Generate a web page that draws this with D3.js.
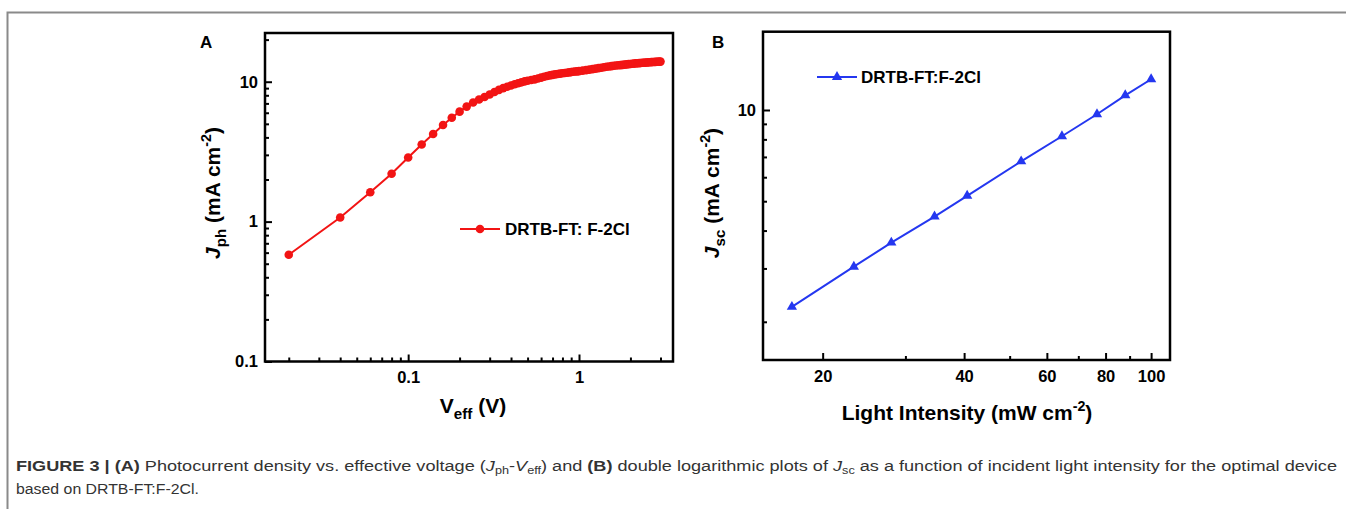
<!DOCTYPE html>
<html>
<head>
<meta charset="utf-8">
<script src="https://cdn.jsdelivr.net/npm/d3@7"></script>
<style>
	body { margin: 0; background: #fff; }
	svg { display: block; font-family: "Liberation Sans", Arial, sans-serif; }
	.tick text { font-weight: bold; font-size: 16.5px; fill: #000; }
	.tick line { stroke: #000; stroke-width: 2; }
</style>
</head>
<body>
<svg id="fig" width="1346" height="509"></svg>
<script>
	"use strict";

	/***** Data *****/

	// Panel A : photocurrent density vs effective voltage
	var veff = [0.02, 0.04, 0.06, 0.08, 0.10, 0.12, 0.14, 0.16, 0.18, 0.20,
		0.22, 0.24, 0.26, 0.28, 0.30, 0.32, 0.34, 0.36, 0.38, 0.40,
		0.42, 0.44, 0.46, 0.48, 0.50, 0.525, 0.55, 0.575, 0.60, 0.625,
		0.65, 0.675, 0.70, 0.725, 0.75, 0.775, 0.80, 0.825, 0.85, 0.875,
		0.90, 0.925, 0.95, 0.975, 1.0, 1.05, 1.1, 1.15, 1.2, 1.25,
		1.3, 1.35, 1.4, 1.45, 1.5, 1.55, 1.6, 1.65, 1.7, 1.75,
		1.8, 1.85, 1.9, 1.95, 2.0, 2.05, 2.1, 2.15, 2.2, 2.25,
		2.3, 2.35, 2.4, 2.45, 2.5, 2.55, 2.6, 2.65, 2.7, 2.75,
		2.8, 2.85, 2.9, 2.95, 3.0];
	var jph = [0.58, 1.07, 1.62, 2.20, 2.87, 3.56, 4.23, 4.90, 5.53, 6.11,
		6.64, 7.10, 7.47, 7.78, 8.10, 8.45, 8.75, 9.00, 9.20, 9.40,
		9.60, 9.75, 9.90, 10.05, 10.15, 10.28, 10.40, 10.55, 10.70, 10.85,
		11.00, 11.10, 11.20, 11.28, 11.35, 11.43, 11.50, 11.55, 11.60, 11.66,
		11.72, 11.77, 11.82, 11.86, 11.90, 12.00, 12.10, 12.20, 12.30, 12.40,
		12.50, 12.60, 12.70, 12.78, 12.85, 12.93, 13.00, 13.05, 13.10, 13.15,
		13.20, 13.25, 13.30, 13.35, 13.40, 13.44, 13.48, 13.52, 13.55, 13.59,
		13.62, 13.65, 13.68, 13.70, 13.73, 13.76, 13.78, 13.80, 13.83, 13.85,
		13.87, 13.89, 13.90, 13.92, 13.93];

	// Panel B : Jsc vs light intensity
	var intensity = [17.2, 23.3, 28.0, 34.6, 40.6, 52.9, 64.6, 76.7, 88.1, 100];
	var jsc = [2.24, 3.04, 3.65, 4.45, 5.21, 6.77, 8.19, 9.68, 11.18, 12.63];

	// Ticks
	var aXMajor = [0.1, 1];
	var aXMinor = [0.02, 0.03, 0.04, 0.05, 0.06, 0.07, 0.08, 0.09, 0.2, 0.3, 0.4, 0.5, 0.6, 0.7, 0.8, 0.9, 2, 3];
	var aYMajor = [0.1, 1, 10];
	var aYMinor = [0.2, 0.3, 0.4, 0.5, 0.6, 0.7, 0.8, 0.9, 2, 3, 4, 5, 6, 7, 8, 9, 20];
	var bXMajor = [20, 40, 60, 80, 100];
	var bXMinor = [30, 50, 70, 90];
	var bYMajor = [10];
	var bYMinor = [2, 3, 4, 5, 6, 7, 8, 9];

	var legendA = "DRTB-FT: F-2Cl";
	var legendB = "DRTB-FT:F-2Cl";

	var red = "#f21414";
	var blue = "#2437f0";

	var svg = d3.select("#fig");

	// figure frame (top and left edges)
	svg.append("path")
		.attr("d", "M7.5,1346 V12.5 H1346")
		.attr("fill", "none")
		.attr("stroke", "#8a8a8a")
		.attr("stroke-width", 2);

	/***** Helpers *****/
	function fmt(d) {
		return d < 1 ? String(d) : d3.format("d")(d);
	}

	function drawAxes(g, x, y, o) {
		var w = x.range()[1] - x.range()[0];
		var h = y.range()[0] - y.range()[1];

		g.append("g").attr("transform", "translate(0," + h + ")")
			.call(d3.axisBottom(x).tickValues(o.xMinor).tickSize(-4).tickFormat(""))
			.call(function (s) { s.select(".domain").remove(); });
		g.append("g").attr("transform", "translate(0," + h + ")")
			.call(d3.axisBottom(x).tickValues(o.xMajor).tickSize(-7).tickPadding(10).tickFormat(fmt))
			.call(function (s) { s.select(".domain").remove(); });
		g.append("g")
			.call(d3.axisLeft(y).tickValues(o.yMinor).tickSize(-4).tickFormat(""))
			.call(function (s) { s.select(".domain").remove(); });
		g.append("g")
			.call(d3.axisLeft(y).tickValues(o.yMajor).tickSize(-7).tickPadding(7).tickFormat(fmt))
			.call(function (s) { s.select(".domain").remove(); });

		g.append("rect")
			.attr("width", w).attr("height", h)
			.attr("fill", "none")
			.attr("stroke", "#000")
			.attr("stroke-width", 2.5);
	}

	// axis title with sub/superscripts: parts = [text, kind]
	function richLabel(sel, parts, size) {
		var shift = 0;
		parts.forEach(function (p) {
			var t = sel.append("tspan").text(p[0]);
			var target = 0;
			if (p[1] === "i") t.attr("font-style", "italic");
			if (p[1] === "sub") { t.attr("font-size", size * 0.72); target = 6; }
			if (p[1] === "sup") { t.attr("font-size", size * 0.68); target = -9; }
			t.attr("dy", target - shift);
			shift = target;
		});
	}

	/***** Panel A *****/
	var ax = d3.scaleLog().domain([0.01452, 3.55]).range([0, 408]);
	var ay = d3.scaleLog().domain([0.1, 22.3]).range([328.5, 0]);
	var gA = svg.append("g").attr("transform", "translate(265,33)");

	gA.append("path")
		.datum(d3.zip(veff, jph))
		.attr("fill", "none")
		.attr("stroke", red)
		.attr("stroke-width", 2)
		.attr("d", d3.line().x(function (d) { return ax(d[0]); }).y(function (d) { return ay(d[1]); }));

	gA.selectAll("circle.pt")
		.data(d3.zip(veff, jph))
		.join("circle")
		.attr("class", "pt")
		.attr("cx", function (d) { return ax(d[0]); })
		.attr("cy", function (d) { return ay(d[1]); })
		.attr("r", 4.3)
		.attr("fill", red);

	drawAxes(gA, ax, ay, { xMajor: aXMajor, xMinor: aXMinor, yMajor: aYMajor, yMinor: aYMinor });

	// legend A
	var lgA = svg.append("g").attr("transform", "translate(460,229)");
	lgA.append("line").attr("x1", 0).attr("x2", 40).attr("stroke", red).attr("stroke-width", 2);
	lgA.append("circle").attr("cx", 20).attr("r", 4.3).attr("fill", red);
	lgA.append("text").attr("x", 45).attr("y", 6)
		.attr("font-size", 17).attr("font-weight", "bold").text(legendA);

	// labels A
	svg.append("text").attr("x", 200).attr("y", 48)
		.attr("font-size", 17).attr("font-weight", "bold").text("A");

	var yLabA = svg.append("text")
		.attr("transform", "translate(220,193) rotate(-90)")
		.attr("text-anchor", "middle")
		.attr("font-size", 21).attr("font-weight", "bold");
	richLabel(yLabA, [["J", "i"], ["ph", "sub"], [" (mA cm", ""], ["-2", "sup"], [")", ""]], 21);

	var xLabA = svg.append("text")
		.attr("x", 473).attr("y", 413)
		.attr("text-anchor", "middle")
		.attr("font-size", 21).attr("font-weight", "bold");
	richLabel(xLabA, [["V", ""], ["eff", "sub"], [" (V)", ""]], 21);

	/***** Panel B *****/
	var bx = d3.scaleLog().domain([14.93, 109.7]).range([0, 407]);
	var by = d3.scaleLog().domain([1.496, 18.13]).range([328.3, 0]);
	var gB = svg.append("g").attr("transform", "translate(763,31.7)");

	gB.append("path")
		.datum(d3.zip(intensity, jsc))
		.attr("fill", "none")
		.attr("stroke", blue)
		.attr("stroke-width", 2)
		.attr("d", d3.line().x(function (d) { return bx(d[0]); }).y(function (d) { return by(d[1]); }));

	var tri = d3.symbol().type(d3.symbolTriangle).size(46);
	gB.selectAll("path.pt")
		.data(d3.zip(intensity, jsc))
		.join("path")
		.attr("class", "pt")
		.attr("d", tri)
		.attr("transform", function (d) { return "translate(" + bx(d[0]) + "," + by(d[1]) + ")"; })
		.attr("fill", blue);

	drawAxes(gB, bx, by, { xMajor: bXMajor, xMinor: bXMinor, yMajor: bYMajor, yMinor: bYMinor });

	// legend B
	var lgB = svg.append("g").attr("transform", "translate(817,77)");
	lgB.append("line").attr("x1", 0).attr("x2", 40).attr("stroke", blue).attr("stroke-width", 2);
	lgB.append("path").attr("d", tri).attr("transform", "translate(20,0)").attr("fill", blue);
	lgB.append("text").attr("x", 44).attr("y", 6)
		.attr("font-size", 17).attr("font-weight", "bold").text(legendB);

	svg.append("text").attr("x", 712).attr("y", 48)
		.attr("font-size", 17).attr("font-weight", "bold").text("B");

	var yLabB = svg.append("text")
		.attr("transform", "translate(719,193) rotate(-90)")
		.attr("text-anchor", "middle")
		.attr("font-size", 21).attr("font-weight", "bold");
	richLabel(yLabB, [["J", "i"], ["sc", "sub"], [" (mA cm", ""], ["-2", "sup"], [")", ""]], 21);

	var xLabB = svg.append("text")
		.attr("x", 967).attr("y", 420)
		.attr("text-anchor", "middle")
		.attr("font-size", 21).attr("font-weight", "bold");
	richLabel(xLabB, [["Light Intensity (mW cm", ""], ["-2", "sup"], [")", ""]], 21);

	/***** Caption *****/
	var cap1 = svg.append("text").attr("x", 0).attr("y", 0)
		.attr("font-size", 15).attr("fill", "#333");
	function span(parent, txt, opt) {
		var t = parent.append("tspan").text(txt);
		opt = opt || {};
		if (opt.b) t.attr("font-weight", "bold");
		if (opt.i) t.attr("font-style", "italic");
		if (opt.sub) t.attr("font-size", 10.5).attr("dy", 3);
		if (opt.up) t.attr("dy", -3);
		return t;
	}
	span(cap1, "FIGURE 3 | (A)", { b: true });
	span(cap1, " Photocurrent density vs. effective voltage (");
	span(cap1, "J", { i: true });
	span(cap1, "ph", { sub: true });
	span(cap1, "-", { up: true });
	span(cap1, "V", { i: true });
	span(cap1, "eff", { sub: true });
	span(cap1, ") and ", { up: true });
	span(cap1, "(B)", { b: true });
	span(cap1, " double logarithmic plots of ");
	span(cap1, "J", { i: true });
	span(cap1, "sc", { sub: true });
	span(cap1, " as a function of incident light intensity for the optimal device", { up: true });

	var w1 = cap1.node().getComputedTextLength();
	cap1.attr("transform", "translate(16,471) scale(" + ((1338 - 16) / w1) + ",1)");

	var cap2 = svg.append("text")
		.attr("font-size", 15).attr("fill", "#333")
		.text("based on DRTB-FT:F-2Cl.");
	var w2 = cap2.node().getComputedTextLength();
	cap2.attr("transform", "translate(16,494) scale(" + ((199 - 16) / w2) + ",1)");
</script>
</body>
</html>
